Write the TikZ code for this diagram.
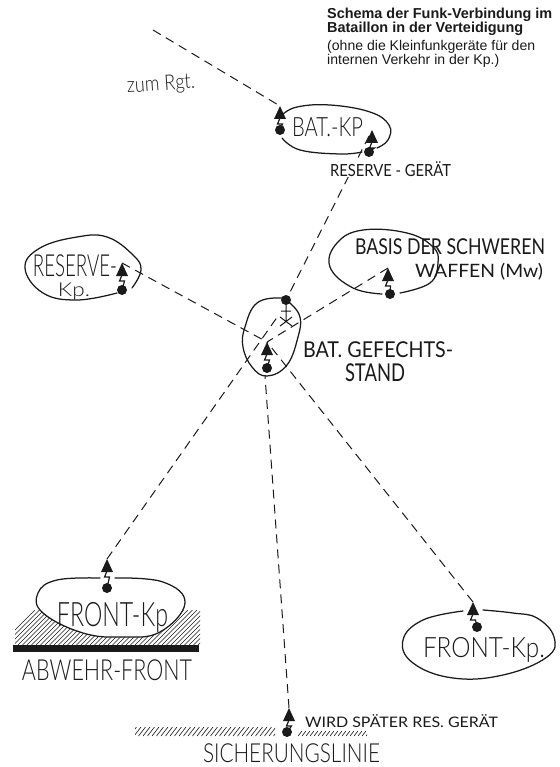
\documentclass[tikz,border=0pt]{standalone}
\usepackage{fontspec}
\usepackage{graphicx}
\setmainfont{Liberation Sans}
\newfontfamily\handfont{Lato Light}
\newfontfamily\handfontb{Lato}
\newcommand{\hand}[3]{\resizebox*{#1pt}{#2pt}{\handfont #3}}
\newcommand{\handb}[3]{\resizebox*{#1pt}{#2pt}{\handfontb #3}}
\newcommand{\radio}[5]{%
  \coordinate (#1) at (#2,#3);
  \fill[ink] (#2,#3) -- ++(-6,13) -- ++(12,0) -- cycle;
  \draw[ink,line width=1.2pt] (#2,#3+12) -- ++(-2.5,6) -- ++(5,0) -- (#4,#5);
  \node[stationdot] (#1dot) at (#4,#5) {};
}
\definecolor{ink}{HTML}{1A1A1A}
\tikzset{
  x=1pt,y=-1pt,
  oval/.style={ink,line width=1.25pt,line cap=round},
  radioline/.style={ink,line width=1pt,dash pattern=on 9pt off 6pt},
  stationdot/.style={circle,fill=ink,inner sep=0pt,minimum size=10pt},
  label/.style={ink,inner sep=0pt},
  hatchline/.style={ink,line width=.6pt},
}
\begin{document}
\begin{tikzpicture}
\useasboundingbox (0,0) rectangle (559,767);
\fill[white] (0,0) rectangle (559,767);
% hatching
\begin{scope}
\clip (15,610) rectangle (200,645);
\foreach \i in {0,4.5,...,240}{\draw[hatchline] (\i,645) -- ++(35,-35);}
\end{scope}
\begin{scope}
\clip (135,727) rectangle (275,736);
\foreach \i in {125,129.5,...,280}{\draw[hatchline] (\i,736) -- ++(7,-9);}
\end{scope}
\begin{scope}
\clip (298,731) rectangle (367,736);
\foreach \i in {290,294,...,370}{\draw[hatchline] (\i,736) -- ++(4,-5);}
\end{scope}
\fill[ink] (13,644.5) rectangle (199,652);
% front-left oval (opaque above hatching)
\fill[white] plot[smooth cycle,tension=.7] coordinates {(100,578) (57,580) (38,593) (43,613) (83,633) (123,637) (160,632) (185,603) (163,582) (115,578)};
\draw[oval] plot[smooth,tension=.7] coordinates {(100,578) (57,580) (38,593) (43,613) (83,633) (123,637) (160,632) (185,603) (163,582) (115,578)};
% other ovals
\draw[oval] plot[smooth,tension=.7] coordinates {(362,152) (340,154) (300,150) (282,138)};
\draw[oval] plot[smooth,tension=.7] coordinates {(377,148) (388,140) (389,125) (370,112) (330,105) (297,107) (282,115)};
\draw[oval] plot[smooth cycle,tension=.7] coordinates {(282,298) (257,303) (245,327) (243,347) (252,367) (267,376) (287,365) (298,337) (300,317) (290,303)};
\draw[oval] plot[smooth,tension=.7] coordinates {(117,293) (77,300) (43,293) (25,268) (40,248) (77,237) (107,237) (133,255) (141,270) (132,288)};
\draw[oval] plot[smooth,tension=.7] coordinates {(382,294) (353,288) (330,267) (337,243) (363,230) (407,233) (433,247) (438,263) (430,283) (400,293)};
\draw[oval] plot[smooth,tension=.7] coordinates {(463,611) (423,620) (403,640) (413,663) (453,678) (503,675) (547,657) (554,637) (537,618) (513,613) (483,610)};
% stations
\radio{kpa}{280}{106}{280}{130}
\radio{kpb}{372}{130}{369}{152}
\radio{res}{122}{263}{122}{290}
\radio{bas}{388}{268}{390}{294}
\radio{ctr}{267}{342}{267}{368}
\radio{fl}{107}{559}{107}{588}
\radio{fr}{473}{602}{477}{627}
\radio{sl}{289}{708}{287}{732}
\node[stationdot] (ctrtop) at (286,300) {};
% cross under the upper station of the command post
\coordinate (crossa) at (286,304);
\coordinate (crossb) at (286,321);
\draw[ink,line width=1pt] (crossa) -- (crossb) (281,311) -- (291,311) (280,317) -- (292,326) (292,317) -- (280,326);
% connectors
\coordinate (rgt) at (153,30);
\coordinate (flend) at (278,316);
\coordinate (slend) at (265,376);
\draw[radioline] (rgt) -- (kpa);
\draw[radioline] (kpb) ++(-3,6) -- (ctrtop);
\draw[radioline] (res) -- (ctr);
\draw[radioline] (bas) -- (ctr);
\draw[radioline] (fl) -- (flend);
\draw[radioline] (fr) -- (ctr);
\draw[radioline] (sl) -- (slend);
% header
\node[label,anchor=west,align=left] (h1) at (327,15) {\resizebox{225pt}{!}{\bfseries Schema der Funk-Verbindung im}};
\node[label,anchor=west] (h2) at (327,28.5) {\resizebox{196pt}{!}{\bfseries Bataillon in der Verteidigung}};
\node[label,anchor=west] (h3) at (327,47) {\resizebox{208pt}{!}{(ohne die Kleinfunkgeräte für den}};
\node[label,anchor=west] (h4) at (327,60.5) {\resizebox{172pt}{!}{internen Verkehr in der Kp.)}};
% hand lettering
\node[label,rotate=4] (tzum) at (161,85) {\hand{68}{19}{zum Rgt.}};
\node[label] (tbat) at (327.5,127.5) {\hand{71}{19}{BAT.-KP}};
\node[label,fill=white] (tresg) at (390.5,169.5) {\handb{121}{15}{RESERVE - GERÄT}};
\node[label] (tres) at (75,266) {\hand{84}{22}{RESERVE-}};
\node[label] (tkp) at (74,291.5) {\hand{32}{17}{Kp.}};
\node[label] (tbas) at (450,247) {\handb{190}{16}{BASIS DER SCHWEREN}};
\node[label] (twaf) at (479,271.5) {\handb{128}{17}{WAFFEN (Mw)}};
\node[label] (tgef) at (378,350) {\handb{150}{16}{BAT. GEFECHTS-}};
\node[label] (tsta) at (375,373) {\handb{60}{18}{STAND}};
\node[label] (tfl) at (112.5,617) {\hand{111}{30}{FRONT-Kp}};
\node[label] (tabw) at (107,670.5) {\hand{170}{21}{ABWEHR-FRONT}};
\node[label] (tfr) at (484,649.5) {\hand{122}{25}{FRONT-Kp.}};
\node[label] (twird) at (401.5,721.5) {\handb{193}{13}{WIRD SPÄTER RES. GERÄT}};
\node[label] (tsich) at (291.5,753.5) {\hand{177}{19}{SICHERUNGSLINIE}};
\end{tikzpicture}
\end{document}
